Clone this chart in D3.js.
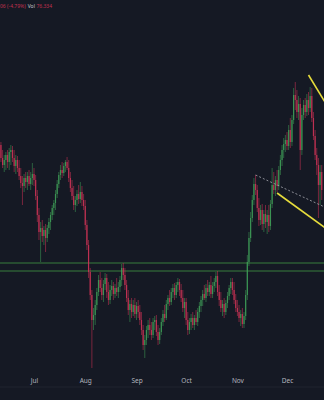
<html>
<head>
<title> Candles </title>
<script src="https://d3js.org/d3.v7.min.js"></script>
<style>
body {
  margin: 0;
  background: #151924;
}
.axis text {
  fill: #b2b5be;
  font-family: "Noto Sans", sans-serif;
  font-size: 6.5px;
}
.axis .domain {
  stroke: none;
}
</style>
</head>
<body>
<svg id="chart" width="324" height="400"></svg>
<script>

//daily candles starting at the first date, open = previous close
const firstDay = "2023-06-11";
const firstOpen = 255;
const closes = [242,235,240,245,238,248,250,242,234,240,
  232,224,217,214,222,218,224,216,222,226,
  220,204,185,168,172,164,170,162,172,178,
  185,192,197,206,216,225,230,227,234,238,
  232,222,212,204,195,200,206,201,208,200,
  194,175,155,128,105,80,85,95,108,120,
  112,105,116,122,108,100,110,114,106,112,
  108,113,120,132,125,115,102,90,96,88,
  95,86,94,88,80,70,55,60,70,75,
  70,65,78,80,68,60,68,78,86,82,
  96,102,98,108,112,105,115,118,110,102,
  92,98,80,70,78,82,75,82,78,88,
  94,100,106,102,112,108,115,106,114,118,
  124,108,100,92,96,88,97,104,112,118,
  110,100,92,88,82,86,76,84,105,138,
  162,182,200,216,210,192,180,190,176,186,
  178,185,174,196,215,210,220,214,230,240,
  250,256,260,254,270,258,280,305,300,288,
  296,250,285,295,288,300,292,304,282,264,
  245,235,215,228,210];
const highs = [258,250,245,248,250,252,255,254,250,245,
  244,240,232,224,226,228,228,230,228,237,
  232,225,210,192,178,180,174,176,175,182,
  188,195,200,210,220,228,235,238,237,240,
  243,240,228,220,214,204,210,215,218,214,
  206,200,180,160,132,110,92,100,112,125,
  128,122,120,127,126,118,115,120,118,116,
  122,118,124,136,137,132,120,110,100,102,
  100,102,98,100,95,88,75,65,74,80,
  82,78,82,84,85,75,72,82,90,95,
  100,105,110,112,116,117,118,122,121,116,
  110,102,102,88,82,86,88,85,90,92,
  98,104,110,115,116,120,118,124,118,122,
  128,129,115,108,100,102,100,108,115,122,
  122,118,106,100,95,90,92,88,110,145,
  168,188,205,222,225,215,202,195,196,190,
  195,190,195,200,232,228,224,230,234,245,
  255,262,265,268,275,282,285,312,318,310,
  304,302,292,300,302,306,308,313,312,288,
  270,252,242,235,235];
const lows = [238,232,228,230,232,230,235,238,228,226,
  228,220,212,195,208,212,210,214,210,215,
  214,200,178,160,138,158,155,148,158,166,
  170,180,185,190,202,212,220,222,224,228,
  230,218,208,200,190,188,194,196,197,194,
  190,170,150,122,100,32,70,75,90,104,
  108,100,98,110,102,95,96,104,100,102,
  104,102,108,114,120,110,98,85,78,82,
  84,82,80,82,75,65,50,42,55,62,
  65,60,62,70,64,55,56,65,74,78,
  80,90,94,95,102,100,102,108,104,98,
  88,82,75,65,66,70,72,70,75,74,
  82,88,94,100,98,104,104,102,102,108,
  112,104,94,88,84,82,85,92,100,106,
  105,96,88,84,78,74,72,72,80,100,
  134,158,178,195,205,188,174,175,170,168,
  172,166,168,170,192,206,204,208,210,225,
  234,242,248,250,250,252,254,276,290,282,
  280,230,245,280,282,284,285,288,278,260,
  240,225,182,195,200];

//support band and drawn lines
const levels = [137, 129];
const trendTop = [["2023-12-14", 325], ["2023-12-25", 295]];
const trendBottom = [["2023-11-25", 207], ["2023-12-25", 171]];
const dashedLine = [["2023-11-12", 225], ["2023-12-25", 192]];
const monthTicks = ["2023-07-01","2023-08-01","2023-09-01","2023-10-01","2023-11-01","2023-12-01"];

const svg = d3.select("svg#chart");
const width = +svg.attr("width");
const height = +svg.attr("height");
const parse = d3.timeParse("%Y-%m-%d");

let data = closes.map((c, i) => ({
  date: d3.timeDay.offset(parse(firstDay), i),
  open: i == 0 ? firstOpen : closes[i-1],
  high: highs[i],
  low: lows[i],
  close: c
}));

//creating scales
const xScale = d3.scaleTime()
  .domain([parse("2023-07-01"), parse("2023-12-01")])
  .range([34, 287]);
const yScale = d3.scaleLinear().domain([0, 400]).range([height, 0]);

svg.append("rect").attr("width", width).attr("height", height).attr("fill", "#151924");

//horizontal levels
svg.selectAll("line.level").data(levels).enter().append("line")
  .attr("class", "level")
  .attr("x1", 0).attr("x2", width)
  .attr("y1", d => yScale(d)).attr("y2", d => yScale(d))
  .attr("stroke", "#43a047").attr("stroke-opacity", 0.75).attr("stroke-width", 1);

//candles
const up = "#3f9e58", down = "#cc3356";
let candles = svg.append("g").attr("id", "candles").attr("opacity", 0.92);
candles.selectAll("line.wick").data(data).enter().append("line")
  .attr("class", "wick")
  .attr("x1", d => xScale(d.date)).attr("x2", d => xScale(d.date))
  .attr("y1", d => yScale(d.high)).attr("y2", d => yScale(d.low))
  .attr("stroke", d => d.close >= d.open ? up : down)
  .attr("stroke-width", 0.6);
candles.selectAll("rect.body").data(data).enter().append("rect")
  .attr("class", "body")
  .attr("x", d => xScale(d.date) - 0.6)
  .attr("width", 1.2)
  .attr("y", d => yScale(Math.max(d.open, d.close)))
  .attr("height", d => Math.max(Math.abs(yScale(d.open) - yScale(d.close)), 0.7))
  .attr("fill", d => d.close >= d.open ? up : down);

//trend lines
const line = d3.line().x(d => xScale(parse(d[0]))).y(d => yScale(d[1]));
svg.append("path").attr("d", line(dashedLine))
  .attr("fill", "none").attr("stroke", "#a9abb3").attr("stroke-width", 0.8)
  .attr("stroke-dasharray", "2,2");
[trendTop, trendBottom].forEach(t => {
  svg.append("path").attr("d", line(t))
    .attr("fill", "none").attr("stroke", "#e6dc3c").attr("stroke-width", 1.6);
});

//time axis
svg.append("line").attr("x1", 0).attr("x2", width).attr("y1", 387).attr("y2", 387)
  .attr("stroke", "#20242f").attr("stroke-width", 1);
let bottomAxis = d3.axisBottom(xScale)
  .tickValues(monthTicks.map(parse))
  .tickFormat(d3.timeFormat("%b"))
  .tickSize(0)
  .tickPadding(0);
svg.append("g").attr("class", "axis")
  .attr("transform", "translate(0,378)")
  .call(bottomAxis);

//header text
let header = svg.append("text").attr("x", 0).attr("y", 8)
  .attr("font-family", "Noto Sans, sans-serif").attr("font-size", "5px");
header.append("tspan").attr("fill", "#c2304f").text("06 (-4.79%)");
header.append("tspan").attr("fill", "#c9cbd1").attr("dx", 2).text("Vol");
header.append("tspan").attr("fill", "#c2304f").attr("dx", 1.5).text("76.334");

</script>
</body>
</html>
